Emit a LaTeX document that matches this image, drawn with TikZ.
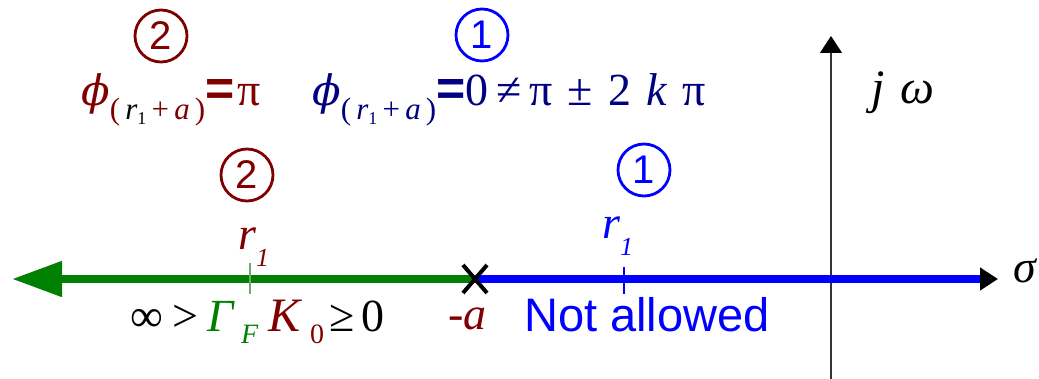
\documentclass[tikz,border=0pt]{standalone}
\usepackage{fontspec}
\setmainfont{Liberation Serif}
\setsansfont{Liberation Sans}
\newfontfamily\tms{Liberation Serif}
\newfontfamily\dvs{DejaVu Serif}
\usetikzlibrary{arrows.meta}
\definecolor{dred}{RGB}{128,0,0}
\definecolor{navyb}{RGB}{0,0,128}
\definecolor{dgreen}{RGB}{0,128,0}
\definecolor{pblue}{RGB}{0,0,255}
\definecolor{tickgreen}{RGB}{110,170,110}
\newcommand\fsz[1]{\fontsize{#1}{#1}\selectfont}
\newcommand\phisym{{\dvs\itshape\fsz{42}ϕ}}
\newcommand\subexpr[2]{\raisebox{-14pt}{\tms\fsz{31}(\,{\color{#2}\textit{r}\raisebox{-5pt}{\fsz{18}1}}\,+\,\textit{a}\,)}}
\tikzset{
  circnum/.style={circle, draw, line width=2.8pt, minimum size=52pt, inner sep=0pt, font=\sffamily\fsz{40}},
  formula/.style={anchor=base west, inner sep=0pt, font=\tms\fsz{46}},
  bottomsym/.style={anchor=base west, inner sep=0pt, font=\tms\fsz{46}},
  bottomsub/.style={anchor=base west, inner sep=0pt, font=\tms\fsz{28}},
  greenarrow/.style={draw=dgreen, line width=8pt, -{Triangle[length=50pt,width=34pt]}},
  bluearrow/.style={draw=pblue, line width=8pt, -{Triangle[length=18pt,width=22pt,color=black,fill=black]}},
  vaxis/.style={draw=black!80, line width=1.2pt, -{Triangle[length=17pt,width=22pt,color=black,fill=black]}},
  xmark/.style={draw=black, line width=4pt},
  tick/.style={line width=1.2pt},
}
\begin{document}
\begin{tikzpicture}[x=1pt,y=-1pt]
\useasboundingbox (0,0) rectangle (1039,379);
\fill[white] (0,0) rectangle (1039,379);

% coordinates
\coordinate (A) at (475,279);
\coordinate (Lend) at (12,279);
\coordinate (Rend) at (998,279);
\coordinate (Vbot) at (831,379);
\coordinate (Vtop) at (831,36);
\coordinate (T2b) at (250,263);
\coordinate (T2e) at (250,294);
\coordinate (T1b) at (624,267);
\coordinate (T1e) at (624,294);

% axes
\draw[vaxis] (Vbot) -- (Vtop);
\draw[bluearrow] (A) -- (Rend);
\draw[greenarrow] (A) -- (Lend);
\draw[tick, draw=tickgreen] (T2b) -- (T2e);
\draw[tick, draw=pblue] (T1b) -- (T1e);
\draw[xmark] ([shift={(-12,-14)}]A) -- ([shift={(12,14)}]A);
\draw[xmark] ([shift={(-12,14)}]A) -- ([shift={(12,-14)}]A);

% circled numbers
\node[circnum, dred] (c2a) at (161,36) {2};
\node[circnum, pblue] (c1a) at (482,35) {1};
\node[circnum, dred] (c2b) at (247,175) {2};
\node[circnum, pblue] (c1b) at (644,170) {1};

% top formulas
\node[formula, text=dred] (fred) at (81,106)
  {\phisym\subexpr{dred}{black}{\sffamily\bfseries\fsz{50}=}\hspace{3pt}π};
\node[formula, text=navyb] (fblue) at (312,106)
  {\phisym\subexpr{navyb}{navyb}{\sffamily\bfseries\fsz{50}=}0\,≠\,π\,\,±\,\,2\,\,\textit{k}\,\,π};

% axis labels
\node[formula, font=\tms\fsz{48}] (jw) at (871,104) {\textit{j\,\,ω}};
\node[formula] (sig) at (1013,283) {\textit{σ}};

% r1 labels
\node[formula, text=dred] (r1red) at (238,250) {\textit{r}\raisebox{-17pt}{\fsz{26}\textit{1}}};
\node[formula, text=pblue] (r1blue) at (602,239) {\textit{r}\raisebox{-17pt}{\fsz{26}\textit{1}}};

% bottom labels
\node[bottomsym] (inf) at (130,331) {∞};
\node[bottomsym] (gt) at (172,331) {>};
\node[bottomsym, text=dgreen] (gam) at (207,331) {\textit{Γ}};
\node[bottomsub, text=dgreen] (gsub) at (241,344) {\textit{F}};
\node[bottomsym, text=dred, font=\tms\fsz{48}] (kk) at (268,331) {\textit{K}};
\node[bottomsub, text=dred] (ksub) at (310,344) {0};
\node[bottomsym] (geq) at (329,331) {≥};
\node[bottomsym] (zero) at (361,331) {0};
\node[formula, text=dred] (ma) at (448,330) {\textit{-a}};
\node[formula, font=\sffamily\fsz{47}, text=pblue] (na) at (524,332) {Not allowed};
\end{tikzpicture}
\end{document}
